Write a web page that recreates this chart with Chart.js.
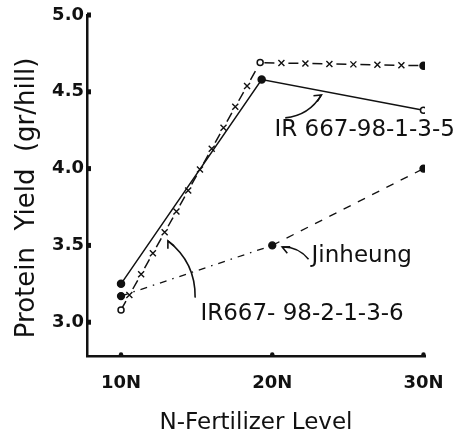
<!DOCTYPE html>
<html>
<head>
<meta charset="utf-8">
<script src="https://cdn.jsdelivr.net/npm/chart.js@4.4.0/dist/chart.umd.min.js"></script>
<style>
body { margin: 0; background: #fff; }
#chart_box { width: 456px; height: 440px; }
</style>
</head>
<body>
<div id="chart_box"><canvas id="graph_canvas" width="456" height="440"></canvas></div>
<script>
// values
const xTicks = [10, 20, 30];
const xTickLabels = ['10N', '20N', '30N'];
const yTicks = [3.0, 3.5, 4.0, 4.5, 5.0];
const yTickLabels = ['3.0', '3.5', '4.0', '4.5', '5.0'];

const ir135Levels = [10, 19.3, 30];
const ir135Yield = [3.25, 4.58, 4.38];

const ir2136Levels = [10, 19.2, 30];
const ir2136Yield = [3.08, 4.69, 4.67];

const jinLevels = [10, 20, 30];
const jinYield = [3.17, 3.50, 4.00];

const seriesNames = ['IR 667-98-1-3-5', 'IR667- 98-2-1-3-6', 'Jinheung'];

// hand written labels + their pointer arrows, in data units
const notes = [
    { text: seriesNames[0], x: 20.15, y: 4.25, from: [20.86, 4.33], to: [23.25, 4.48] },
    { text: seriesNames[2], x: 22.6, y: 3.43, from: [22.4, 3.41], to: [20.66, 3.49] },
    { text: seriesNames[1], x: 15.25, y: 3.05, from: [14.9, 3.16], to: [13.1, 3.53] }
];

const ink = '#111';
const fontName = '"DejaVu Sans", sans-serif';

function toPoints(xs, ys) {
    return xs.map((x, i) => ({ x: x, y: ys[i] }));
}

// little square tick marks inside the y axis, dots on the x axis,
// the x marks on the dashed line and the labels with arrows
const decorations = {
    id: 'decorations',
    afterDatasetsDraw(chart) {
        const ctx = chart.ctx;
        const xs = chart.scales.x;
        const ys = chart.scales.y;
        const area = chart.chartArea;
        ctx.save();
        ctx.fillStyle = ink;
        ctx.strokeStyle = ink;

        yTicks.forEach(v => {
            const py = ys.getPixelForValue(v);
            ctx.fillRect(area.left, py - 2.5, 4, 5);
        });
        xTicks.forEach(v => {
            const px = xs.getPixelForValue(v);
            ctx.beginPath();
            ctx.arc(px, area.bottom - 1.5, 2.2, 0, Math.PI * 2);
            ctx.fill();
        });

        // crosses along IR667-98-2-1-3-6, sitting in the dash gaps
        const pts = chart.getDatasetMeta(1).data;
        let walked = 0;
        let next = 17;
        ctx.lineWidth = 1.4;
        for (let i = 0; i < pts.length - 1; i++) {
            const a = pts[i], b = pts[i + 1];
            const len = Math.hypot(b.x - a.x, b.y - a.y);
            while (next < walked + len) {
                const t = (next - walked) / len;
                const d = next - walked;
                if (d > 9 && len - d > 9) {
                    const cx = a.x + (b.x - a.x) * t;
                    const cy = a.y + (b.y - a.y) * t;
                    ctx.beginPath();
                    ctx.moveTo(cx - 3, cy - 3); ctx.lineTo(cx + 3, cy + 3);
                    ctx.moveTo(cx + 3, cy - 3); ctx.lineTo(cx - 3, cy + 3);
                    ctx.stroke();
                }
                next += 24;
            }
            walked += len;
        }

        ctx.font = '23px ' + fontName;
        ctx.textBaseline = 'middle';
        ctx.textAlign = 'left';
        ctx.lineWidth = 1.6;
        notes.forEach(n => {
            ctx.fillText(n.text, xs.getPixelForValue(n.x), ys.getPixelForValue(n.y));
            const x0 = xs.getPixelForValue(n.from[0]), y0 = ys.getPixelForValue(n.from[1]);
            const x1 = xs.getPixelForValue(n.to[0]), y1 = ys.getPixelForValue(n.to[1]);
            const mx = (x0 + x1) / 2, my = (y0 + y1) / 2;
            const dx = x1 - x0, dy = y1 - y0;
            ctx.beginPath();
            ctx.moveTo(x0, y0);
            ctx.quadraticCurveTo(mx - dy * 0.25, my + dx * 0.25, x1, y1);
            ctx.stroke();
            // arrow head
            const ang = Math.atan2(dy, dx);
            ctx.beginPath();
            ctx.moveTo(x1 - 8 * Math.cos(ang - 0.45), y1 - 8 * Math.sin(ang - 0.45));
            ctx.lineTo(x1, y1);
            ctx.lineTo(x1 - 8 * Math.cos(ang + 0.45), y1 - 8 * Math.sin(ang + 0.45));
            ctx.stroke();
        });
        ctx.restore();
    }
};

const canvas = document.getElementById('graph_canvas');
const chart = new Chart(canvas.getContext('2d'), {
    type: 'line',
    data: {
        datasets: [
            {
                label: seriesNames[0],
                data: toPoints(ir135Levels, ir135Yield),
                borderColor: ink,
                borderWidth: 1.5,
                pointRadius: [3.5, 3.5, 3],
                pointBackgroundColor: [ink, ink, '#fff'],
                pointBorderColor: ink,
                pointBorderWidth: 1.5
            },
            {
                label: seriesNames[1],
                data: toPoints(ir2136Levels, ir2136Yield),
                borderColor: ink,
                borderWidth: 1.5,
                borderDash: [10, 14],
                pointRadius: [3, 3, 3.5],
                pointBackgroundColor: ['#fff', '#fff', ink],
                pointBorderColor: ink,
                pointBorderWidth: 1.5
            },
            {
                label: seriesNames[2],
                data: toPoints(jinLevels, jinYield),
                borderColor: ink,
                borderWidth: 1.3,
                segment: {
                    borderDash: c => c.p0DataIndex === 0 ? [7, 6, 1.5, 6] : [8, 8]
                },
                pointRadius: 3.5,
                pointBackgroundColor: ink,
                pointBorderColor: ink
            }
        ]
    },
    options: {
        responsive: false,
        maintainAspectRatio: false,
        animation: false,
        layout: {
            padding: { top: 15, right: 31, left: 0, bottom: 0 }
        },
        scales: {
            x: {
                type: 'linear',
                min: 7.75,
                max: 30.1,
                afterBuildTicks: s => { s.ticks = xTicks.map(v => ({ value: v })); },
                afterFit: s => {
                    s.height = 84;
                    s.paddingLeft = 0;
                    s.paddingRight = 0;
                },
                grid: { display: false, drawTicks: false },
                border: { display: true, color: ink, width: 2.5 },
                ticks: {
                    color: ink,
                    padding: 17,
                    font: { family: fontName, size: 18, weight: 'bold' },
                    callback: (v) => xTickLabels[xTicks.indexOf(v)]
                },
                title: {
                    display: true,
                    text: 'N-Fertilizer Level',
                    color: ink,
                    font: { family: fontName, size: 23 },
                    padding: { top: 4, bottom: 3 }
                }
            },
            y: {
                min: 2.78,
                max: 5.0,
                afterBuildTicks: s => { s.ticks = yTicks.map(v => ({ value: v })); },
                afterFit: s => { s.width = 87; },
                grid: { display: false, drawTicks: false },
                border: { display: true, color: ink, width: 2.5 },
                ticks: {
                    color: ink,
                    padding: 3,
                    font: { family: fontName, size: 18, weight: 'bold' },
                    callback: (v) => yTickLabels[yTicks.indexOf(v)]
                },
                title: {
                    display: true,
                    text: 'Protein  Yield  (gr/hill)\u00a0\u00a0\u00a0',
                    color: ink,
                    font: { family: fontName, size: 26 },
                    padding: { top: 12, bottom: 0 }
                }
            }
        },
        plugins: {
            legend: { display: false },
            tooltip: { enabled: false }
        }
    },
    plugins: [decorations]
});
</script>
</body>
</html>
